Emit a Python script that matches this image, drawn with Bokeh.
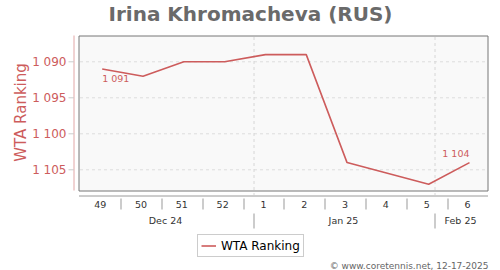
import math
from bokeh.plotting import figure
from bokeh.models import Range1d
from bokeh.core.properties import value
from bokeh.embed import file_html
from bokeh.resources import INLINE

# ---- data ----
weeks = ["49", "50", "51", "52", "1", "2", "3", "4", "5", "6"]
ranking = [1091, 1092, 1090, 1090, 1089, 1089, 1104, None, 1107, 1104]
months = ["Dec 24", "Jan 25", "Feb 25"]
y_ticks = [1090, 1095, 1100, 1105]
title = "Irina Khromacheva (RUS)"
series_name = "WTA Ranking"
credit = "\u00a9 www.coretennis.net, 12-17-2025"

# ---- layout constants (pixels) ----
W, H = 500, 270
FL, FR, FT, FB = 0, 500, 0, 270           # frame edges
X0, DX = 101.7, 40.81                     # px of first week, px per week
Y0, DY = 61.3, 7.2                         # px of 1090, px per rank unit
BOX_L, BOX_R, BOX_T, BOX_B = 78.5, 487.5, 35.5, 190.5
AXIS_X = 73.5
MONTH_BOUNDS_PX = [253.5, 434.5]

RED = "#cd5c5c"
FONT = "DejaVu Sans"

def px2idx(px):
    return (px - X0) / DX

def py2val(py):
    return 1090 + (py - Y0) / DY

def idx2px(i):
    return X0 + i * DX

def fmt(v):
    return f"{v:,}".replace(",", " ")

p = figure(width=W, height=H, output_backend="svg", toolbar_location=None,
           x_range=Range1d(px2idx(FL), px2idx(FR)),
           y_range=Range1d(py2val(FB), py2val(FT)),
           x_axis_location=None, y_axis_location=None,
           min_border_left=0, min_border_right=0, min_border_top=0, min_border_bottom=0,
           title="")
p.title.visible = False
p.extra_x_ranges = {"px": Range1d(FL, FR)}
p.extra_y_ranges = {"py": Range1d(FB, FT)}
p.outline_line_color = None
p.background_fill_color = "white"
p.border_fill_color = "white"
p.xgrid.visible = False
p.ygrid.visible = False

n_t = len(y_ticks)

# y axis line, ticks, labels
p.segment(x0=[AXIS_X], x1=[AXIS_X], y0=[35], y1=[190], x_range_name="px", y_range_name="py",
          line_color="#e2a6a6", line_width=1)
p.segment(x0=[68] * n_t, x1=[AXIS_X] * n_t, y0=y_ticks, y1=y_ticks, x_range_name="px",
          line_color="#cccccc", line_width=1)
p.text(x=[66] * n_t, y=y_ticks, text=[fmt(t) for t in y_ticks], x_range_name="px",
       text_align="right", text_baseline="middle", text_color=RED,
       text_font=value(FONT), text_font_size="12px")

# y axis title
p.text(x=[20.7], y=[112], text=[series_name], x_range_name="px", y_range_name="py",
       angle=math.pi / 2, text_align="center", text_baseline="middle",
       text_color=RED, text_font=value(FONT), text_font_size="15px")

# plot box
p.quad(left=[BOX_L], right=[BOX_R], top=[BOX_T], bottom=[BOX_B],
       x_range_name="px", y_range_name="py",
       fill_color="#f9f9f9", line_color="#777777", line_width=1)

# horizontal grid
p.segment(x0=[BOX_L + 1] * n_t, x1=[BOX_R - 1] * n_t,
          y0=y_ticks, y1=y_ticks, x_range_name="px",
          line_color="#dddddd", line_dash="3 3", line_width=1)

# vertical month grid lines
p.segment(x0=MONTH_BOUNDS_PX, x1=MONTH_BOUNDS_PX, y0=[BOX_T + 1] * 2, y1=[BOX_B + 4] * 2,
          x_range_name="px", y_range_name="py",
          line_color="#d6d6d6", line_dash="3 3", line_width=1)

# series line (gap in data connected)
xs = [i for i, v in enumerate(ranking) if v is not None]
ys = [v for v in ranking if v is not None]
p.line(xs, ys, line_color=RED, line_width=1.6, legend_label=series_name)

# point labels first / last
p.text(x=[xs[0]], y=[ys[0]], text=[fmt(ys[0])], text_align="left", text_baseline="middle",
       y_offset=9, text_color=RED, text_font=value(FONT), text_font_size="9.5px")
p.text(x=[xs[-1]], y=[ys[-1]], text=[fmt(ys[-1])], text_align="right", text_baseline="middle",
       y_offset=-9, text_color=RED, text_font=value(FONT), text_font_size="9.5px")

# x axis line
p.segment(x0=[BOX_L], x1=[BOX_R], y0=[195.5], y1=[195.5], x_range_name="px", y_range_name="py",
          line_color="#9a9a9a", line_width=1)

# week labels
p.text(x=list(range(len(weeks))), y=[204] * len(weeks), text=weeks, y_range_name="py",
       text_align="center", text_baseline="middle", x_offset=-2,
       text_color="#333333", text_font=value(FONT), text_font_size="9.5px")
# week separators
sep = [round(idx2px(i + 0.5) - 2) + 0.5 for i in range(len(weeks) - 1)]
p.segment(x0=sep, x1=sep, y0=[198] * len(sep), y1=[209] * len(sep),
          x_range_name="px", y_range_name="py", line_color="#999999", line_width=1)

# month labels
edges = [BOX_L] + MONTH_BOUNDS_PX + [BOX_R]
mcenters = [(edges[i] + edges[i + 1]) / 2 - 1 for i in range(len(months))]
p.text(x=mcenters, y=[220] * len(months), text=months, x_range_name="px", y_range_name="py",
       text_align="center", text_baseline="middle",
       text_color="#333333", text_font=value(FONT), text_font_size="9.5px")
p.segment(x0=MONTH_BOUNDS_PX, x1=MONTH_BOUNDS_PX, y0=[213] * 2, y1=[228] * 2,
          x_range_name="px", y_range_name="py", line_color="#999999", line_width=1)

# title
p.text(x=[250], y=[13.5], text=[title], x_range_name="px", y_range_name="py",
       text_align="center", text_baseline="middle", text_font_style="bold",
       text_color="#6a6a6a", text_font=value(FONT), text_font_size="20px")

# credit
p.text(x=[488], y=[265], text=[credit], x_range_name="px", y_range_name="py",
       text_align="right", text_baseline="middle",
       text_color="#666666", text_font=value(FONT), text_font_size="9px")

# legend
lg = p.legend[0]
lg.location = (197, 13)
lg.border_line_color = "#999999"
lg.background_fill_color = "white"
lg.label_text_font = FONT
lg.label_text_font_size = "12px"
lg.label_text_color = "#000000"
lg.padding = 3
lg.margin = 0
lg.glyph_width = 15
lg.glyph_height = 15
lg.label_height = 15
lg.label_standoff = 5

open("out.html", "w").write(file_html(p, INLINE))
